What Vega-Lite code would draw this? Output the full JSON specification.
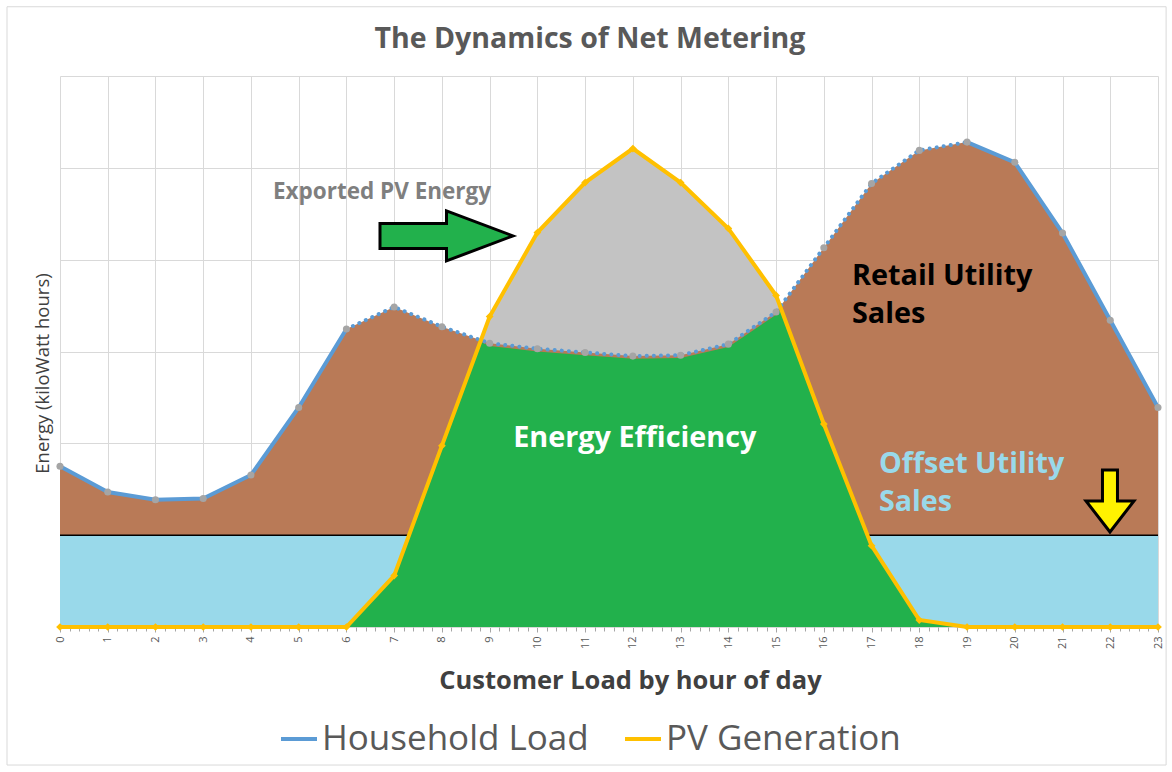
{
  "$schema": "https://vega.github.io/schema/vega-lite/v6.json",
  "autosize": {"type": "none"},
  "width": 1098,
  "height": 551,
  "padding": {"left": 60, "top": 76, "right": 14, "bottom": 145},
  "background": "white",
  "title": {"text": "The Dynamics of Net Metering", "font": "Open Sans", "fontSize": 28.5, "fontWeight": "bold", "color": "#595959", "anchor": "middle", "frame": "group", "dx": -19, "offset": -70.3, "baseline": "alphabetic"},
  "datasets": {
    "hourly": [
      {"hour": 0, "Household Load": 1.75, "PV Generation": 0},
      {"hour": 1, "Household Load": 1.47, "PV Generation": 0},
      {"hour": 2, "Household Load": 1.385, "PV Generation": 0},
      {"hour": 3, "Household Load": 1.4, "PV Generation": 0},
      {"hour": 4, "Household Load": 1.655, "PV Generation": 0},
      {"hour": 5, "Household Load": 2.39, "PV Generation": 0},
      {"hour": 6, "Household Load": 3.245, "PV Generation": 0},
      {"hour": 7, "Household Load": 3.485, "PV Generation": 0.56},
      {"hour": 8, "Household Load": 3.27, "PV Generation": 1.975},
      {"hour": 9, "Household Load": 3.09, "PV Generation": 3.38},
      {"hour": 10, "Household Load": 3.03, "PV Generation": 4.295},
      {"hour": 11, "Household Load": 2.99, "PV Generation": 4.84},
      {"hour": 12, "Household Load": 2.95, "PV Generation": 5.21},
      {"hour": 13, "Household Load": 2.96, "PV Generation": 4.84},
      {"hour": 14, "Household Load": 3.08, "PV Generation": 4.34},
      {"hour": 15, "Household Load": 3.43, "PV Generation": 3.61},
      {"hour": 16, "Household Load": 4.13, "PV Generation": 2.21},
      {"hour": 17, "Household Load": 4.83, "PV Generation": 0.886},
      {"hour": 18, "Household Load": 5.19, "PV Generation": 0.076},
      {"hour": 19, "Household Load": 5.28, "PV Generation": 0},
      {"hour": 20, "Household Load": 5.06, "PV Generation": 0},
      {"hour": 21, "Household Load": 4.29, "PV Generation": 0},
      {"hour": 22, "Household Load": 3.34, "PV Generation": 0},
      {"hour": 23, "Household Load": 2.39, "PV Generation": 0}
    ],
    "efficiency": [
      {"hour": 6, "value": 0},
      {"hour": 7, "value": 0.56},
      {"hour": 8, "value": 1.975},
      {"hour": 8.83, "value": 3.1},
      {"hour": 9, "value": 3.06},
      {"hour": 10, "value": 3.0},
      {"hour": 11, "value": 2.96},
      {"hour": 12, "value": 2.92},
      {"hour": 13, "value": 2.93},
      {"hour": 14, "value": 3.05},
      {"hour": 15, "value": 3.4},
      {"hour": 15.08, "value": 3.46},
      {"hour": 16, "value": 2.21},
      {"hour": 17, "value": 0.886},
      {"hour": 18, "value": 0.076},
      {"hour": 19, "value": 0}
    ]
  },
  "data": {"name": "hourly"},
  "config": {
    "font": "Open Sans",
    "view": {"stroke": null},
    "axis": {"gridColor": "#D9D9D9", "gridWidth": 1}
  },
  "resolve": {"axis": {"x": "independent"}},
  "layer": [
    {
      "mark": {"type": "area", "color": "#C3C3C3"},
      "encoding": {
        "x": {"field": "hour", "type": "quantitative", "scale": {"domain": [0, 23], "nice": false, "zero": false},
          "axis": {
            "orient": "bottom",
            "title": "Customer Load by hour of day",
            "values": [0,1,2,3,4,5,6,7,8,9,10,11,12,13,14,15,16,17,18,19,20,21,22,23],
            "format": "d",
            "labelAngle": -90, "labelAlign": "right", "labelBaseline": "middle",
            "labelFont": "Open Sans", "labelFontSize": 11, "labelColor": "#595959", "labelPadding": 4,
            "labelOverlap": false, "labelFlush": false, "labelBound": false,
            "tickSize": 5, "tickColor": "#A6A6A6", "tickWidth": 1,
            "grid": true,
            "domain": true, "domainColor": "#D9D9D9",
            "titleFont": "Open Sans", "titleFontSize": 25.5, "titleFontWeight": "bold", "titleColor": "#404040",
            "titleX": 570, "titleY": 61, "titleBaseline": "alphabetic", "titleAlign": "center"
          }
        },
        "y": {"field": "PV Generation", "type": "quantitative", "scale": {"domain": [0, 6], "nice": false},
          "axis": {
            "title": "Energy (kiloWatt hours)",
            "values": [0, 1, 2, 3, 4, 5, 6],
            "labels": false, "ticks": false, "domain": false, "grid": true,
            "titleFont": "Open Sans", "titleFontSize": 18.5, "titleFontWeight": "normal", "titleColor": "#404040",
            "titleX": -18, "titleY": 297, "titleAngle": -90, "titleAlign": "center", "titleBaseline": "middle"
          }
        }
      }
    },
    {
      "mark": {"type": "area", "color": "#B97A57"},
      "encoding": {
        "x": {"field": "hour", "type": "quantitative",
          "axis": {
            "orient": "bottom",
            "title": null,
            "values": [0.2,0.4,0.6,0.8,1.2,1.4,1.6,1.8,2.2,2.4,2.6,2.8,3.2,3.4,3.6,3.8,4.2,4.4,4.6,4.8,5.2,5.4,5.6,5.8,6.2,6.4,6.6,6.8,7.2,7.4,7.6,7.8,8.2,8.4,8.6,8.8,9.2,9.4,9.6,9.8,10.2,10.4,10.6,10.8,11.2,11.4,11.6,11.8,12.2,12.4,12.6,12.8,13.2,13.4,13.6,13.8,14.2,14.4,14.6,14.8,15.2,15.4,15.6,15.8,16.2,16.4,16.6,16.8,17.2,17.4,17.6,17.8,18.2,18.4,18.6,18.8,19.2,19.4,19.6,19.8,20.2,20.4,20.6,20.8,21.2,21.4,21.6,21.8,22.2,22.4,22.6,22.8],
            "labels": false, "grid": false, "domain": false,
            "ticks": true, "tickSize": 4, "tickColor": "#A6A6A6", "tickWidth": 1
          }
        },
        "y": {"field": "Household Load", "type": "quantitative"}
      }
    },
    {
      "data": {"values": [{}]},
      "mark": {"type": "rect", "color": "#99D9EA"},
      "encoding": {
        "x": {"datum": 0, "type": "quantitative", "axis": null},
        "x2": {"datum": 23},
        "y": {"datum": 0, "type": "quantitative"},
        "y2": {"datum": 1}
      }
    },
    {
      "data": {"values": [{}]},
      "mark": {"type": "rule", "color": "#000000", "strokeWidth": 1.5},
      "encoding": {
        "y": {"datum": 1, "type": "quantitative"}
      }
    },
    {
      "data": {"name": "efficiency"},
      "mark": {"type": "area", "color": "#22B14C"},
      "encoding": {
        "x": {"field": "hour", "type": "quantitative", "axis": null},
        "y": {"field": "value", "type": "quantitative"}
      }
    },
    {
      "transform": [{"filter": "datum.hour <= 6"}],
      "mark": {"type": "line", "strokeWidth": 4},
      "encoding": {
        "x": {"field": "hour", "type": "quantitative", "axis": null},
        "y": {"field": "Household Load", "type": "quantitative"},
        "color": {"datum": "Household Load", "type": "nominal",
          "scale": {"domain": ["Household Load", "PV Generation"], "range": ["#5B9BD5", "#FFC000"]},
          "legend": {"title": null, "orient": "none", "legendX": 219, "legendY": 643, "direction": "horizontal",
            "symbolType": "stroke", "symbolStrokeWidth": 4, "symbolSize": 1296,
            "labelFontSize": 35, "labelColor": "#595959", "labelFont": "Open Sans", "labelOffset": 3,
            "columnPadding": 28, "labelLimit": 500}
        }
      }
    },
    {
      "transform": [{"filter": "datum.hour >= 6 && datum.hour <= 19"}],
      "mark": {"type": "line", "stroke": "#5B9BD5", "strokeWidth": 4, "strokeDash": [0.1, 7], "strokeCap": "round"},
      "encoding": {
        "x": {"field": "hour", "type": "quantitative", "axis": null},
        "y": {"field": "Household Load", "type": "quantitative"}
      }
    },
    {
      "transform": [{"filter": "datum.hour >= 19"}],
      "mark": {"type": "line", "strokeWidth": 4},
      "encoding": {
        "x": {"field": "hour", "type": "quantitative", "axis": null},
        "y": {"field": "Household Load", "type": "quantitative"},
        "color": {"datum": "Household Load", "type": "nominal"}
      }
    },
    {
      "mark": {"type": "point", "filled": true, "color": "#A5A5A5", "size": 50, "opacity": 1},
      "encoding": {
        "x": {"field": "hour", "type": "quantitative", "axis": null},
        "y": {"field": "Household Load", "type": "quantitative"}
      }
    },
    {
      "mark": {"type": "line", "strokeWidth": 4},
      "encoding": {
        "x": {"field": "hour", "type": "quantitative", "axis": null},
        "y": {"field": "PV Generation", "type": "quantitative"},
        "color": {"datum": "PV Generation", "type": "nominal"}
      }
    },
    {
      "mark": {"type": "point", "filled": true, "shape": "diamond", "color": "#FFC000", "size": 60, "opacity": 1},
      "encoding": {
        "x": {"field": "hour", "type": "quantitative", "axis": null},
        "y": {"field": "PV Generation", "type": "quantitative"}
      }
    },
    {
      "data": {"values": [{}]},
      "mark": {"type": "text", "text": "Exported PV Energy", "font": "Open Sans", "fontSize": 22.5, "fontWeight": "bold", "color": "#7F7F7F", "align": "center", "baseline": "alphabetic"},
      "encoding": {"x": {"datum": 6.745, "type": "quantitative", "axis": null}, "y": {"datum": 4.659, "type": "quantitative"}}
    },
    {
      "data": {"values": [{}]},
      "mark": {"type": "text", "text": "Energy Efficiency", "font": "Open Sans", "fontSize": 28.8, "fontWeight": "bold", "color": "#FFFFFF", "align": "center", "baseline": "alphabetic"},
      "encoding": {"x": {"datum": 12.04, "type": "quantitative", "axis": null}, "y": {"datum": 1.964, "type": "quantitative"}}
    },
    {
      "data": {"values": [{}]},
      "mark": {"type": "text", "text": ["Retail Utility", "Sales"], "lineHeight": 38, "font": "Open Sans", "fontSize": 28.8, "fontWeight": "bold", "color": "#000000", "align": "left", "baseline": "alphabetic"},
      "encoding": {"x": {"datum": 16.59, "type": "quantitative", "axis": null}, "y": {"datum": 3.725, "type": "quantitative"}}
    },
    {
      "data": {"values": [{}]},
      "mark": {"type": "text", "text": ["Offset Utility", "Sales"], "lineHeight": 38, "font": "Open Sans", "fontSize": 28.7, "fontWeight": "bold", "color": "#99D9EA", "align": "left", "baseline": "alphabetic"},
      "encoding": {"x": {"datum": 17.155, "type": "quantitative", "axis": null}, "y": {"datum": 1.681, "type": "quantitative"}}
    },
    {
      "data": {"values": [{}]},
      "mark": {"type": "point", "filled": true, "fill": "#22B14C", "stroke": "#000000", "strokeWidth": 3, "opacity": 1, "fillOpacity": 1, "strokeOpacity": 1, "size": 17689, "strokeJoin": "miter",
        "shape": "M-1,-0.188L0,-0.188L0,-0.376L1,0L0,0.376L0,0.188L-1,0.188Z"},
      "encoding": {"x": {"datum": 8.096, "type": "quantitative", "axis": null}, "y": {"datum": 4.259, "type": "quantitative"}}
    },
    {
      "data": {"values": [{}]},
      "mark": {"type": "point", "filled": true, "fill": "#FFF200", "stroke": "#000000", "strokeWidth": 3, "opacity": 1, "fillOpacity": 1, "strokeOpacity": 1, "size": 3844, "strokeJoin": "miter",
        "shape": "M-0.242,-1L0.242,-1L0.242,0L0.774,0L0,1L-0.774,0L-0.242,0Z"},
      "encoding": {"x": {"datum": 21.994, "type": "quantitative", "axis": null}, "y": {"datum": 1.3725, "type": "quantitative"}}
    },
    {
      "data": {"values": [{}]},
      "mark": {"type": "rect", "filled": false, "stroke": "#D9D9D9", "strokeWidth": 1, "fill": null},
      "encoding": {
        "x": {"datum": -1.11, "type": "quantitative", "axis": null},
        "x2": {"datum": 23.17},
        "y": {"datum": -1.503, "type": "quantitative"},
        "y2": {"datum": 6.754}
      }
    }
  ]
}
